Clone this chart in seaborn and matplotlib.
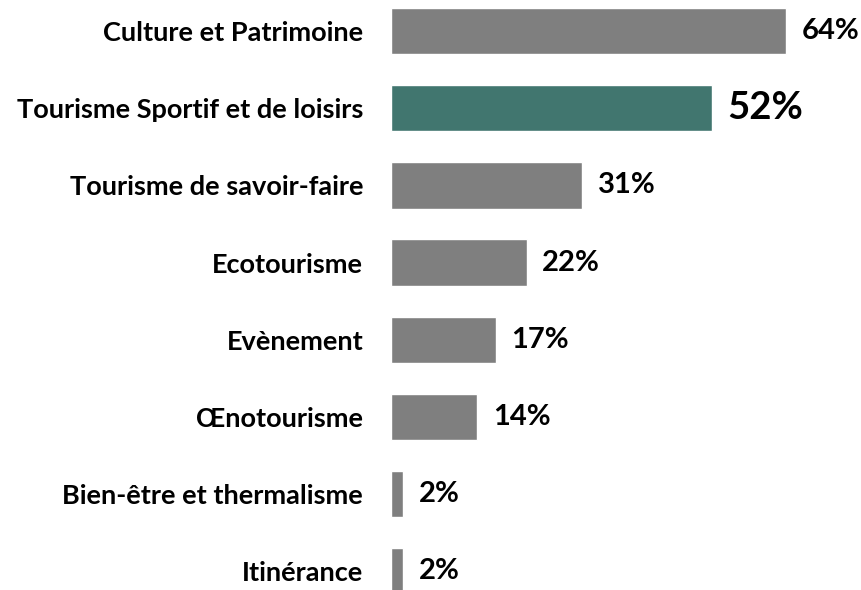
import matplotlib
matplotlib.use("Agg")
import matplotlib.pyplot as plt
import seaborn as sns
import pandas as pd

categories = [
    "Culture et Patrimoine",
    "Tourisme Sportif et de loisirs",
    "Tourisme de savoir-faire",
    "Ecotourisme",
    "Evènement",
    "Œnotourisme",
    "Bien-être et thermalisme",
    "Itinérance",
]
values = [64, 52, 31, 22, 17, 14, 2, 2]
highlight = "Tourisme Sportif et de loisirs"

GRAY = "#7F7F7F"
TEAL = "#41766F"

df = pd.DataFrame({"categorie": categories, "part": values})
palette = {c: (TEAL if c == highlight else GRAY) for c in categories}

sns.set_theme(style="white")
plt.rcParams["font.family"] = ["Lato", "DejaVu Sans"]

W, H = 861, 590
fig = plt.figure(figsize=(W / 100, H / 100), dpi=100)
ax = fig.add_axes([391 / W, 0, 1 - 391 / W, 1])

sns.barplot(data=df, x="part", y="categorie", hue="categorie", palette=palette,
            order=categories, hue_order=categories, orient="h", width=0.6,
            dodge=False, legend=False, saturation=1, ax=ax)

px_per_unit = 6.17
ax.set_xlim(0, (W - 391) / px_per_unit)
ax.set_ylim(7.241, -0.4016)

for i, (c, v) in enumerate(zip(categories, values)):
    big = c == highlight
    ax.text(v + 2.5, i, f"{v}%", va="center", ha="left",
            fontsize=27.5 if big else 21, fontweight="bold", color="black")

ax.set_xlabel("")
ax.set_ylabel("")
ax.set_xticks([])
ax.tick_params(axis="y", length=0, pad=20)
for lab in ax.get_yticklabels():
    lab.set_fontsize(19.5)
    lab.set_fontweight("bold")
    lab.set_color("black")
sns.despine(ax=ax, left=True, bottom=True)

fig.savefig("out.png", dpi=100)
